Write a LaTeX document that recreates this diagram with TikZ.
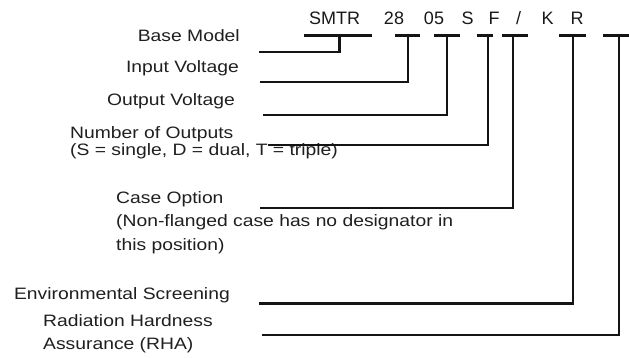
\documentclass[tikz,border=0pt]{standalone}
\usepackage{fontspec}
\setmainfont[FakeStretch=1.17]{Liberation Sans}
\newfontfamily\codefont{Liberation Sans}
\begin{document}
\begin{tikzpicture}[x=1pt,y=-1pt,
  lbl/.style={inner sep=0pt, font=\fontsize{16.5}{19}\selectfont, text=black!88},
  lblr/.style={lbl, anchor=base east},
  lbll/.style={lbl, anchor=base west},
  code/.style={inner sep=0pt, anchor=base, font=\codefont\fontsize{18}{20}\selectfont, text=black!90},
  conn/.style={line width=2.3pt, draw=black!92, line join=miter},
  uline/.style={line width=2.3pt, draw=black!92}]
\useasboundingbox (0,0) rectangle (629,357);

% code characters
\node[code] (cSMTR) at (334.5,24) {SMTR};
\node[code] (c28) at (394,24) {28};
\node[code] (c05) at (434,24) {05};
\node[code] (cS) at (467.5,24) {S};
\node[code] (cF) at (494,24) {F};
\node[code] (cSl) at (518.5,24) {/};
\node[code] (cK) at (547.5,24) {K};
\node[code] (cR) at (577,24) {R};

% labels
\node[lblr] (lBase) at (240,41.7) {Base Model};
\node[lblr] (lIn) at (239,72.7) {Input Voltage};
\node[lblr] (lOut) at (235,105) {Output Voltage};
\node[lbll] (lNum1) at (70,138) {Number of Outputs};
\node[lbll] (lNum2) at (70,155) {(S = single, D = dual, T = triple)};
\node[lbll] (lCase1) at (116,203) {Case Option};
\node[lbll] (lCase2) at (116,226.5) {(Non-flanged case has no designator in};
\node[lbll] (lCase3) at (116,250) {this position)};
\node[lblr] (lEnv) at (230,299) {Environmental Screening};
\node[lbll] (lRha1) at (43,326) {Radiation Hardness};
\node[lbll] (lRha2) at (43,349) {Assurance (RHA)};

% underline ends
\coordinate (u1a) at (304,35.5);   \coordinate (u1b) at (371.5,35.5); \coordinate (u1) at (339.5,35.5);
\coordinate (u2a) at (395,35.5);   \coordinate (u2b) at (420,35.5);   \coordinate (u2) at (407.7,35.5);
\coordinate (u3a) at (434,35.5);   \coordinate (u3b) at (460,35.5);   \coordinate (u3) at (447,35.5);
\coordinate (u4a) at (476.7,35.5); \coordinate (u4b) at (493.3,35.5); \coordinate (u4) at (487.7,35.5);
\coordinate (u5a) at (502,35.5);   \coordinate (u5b) at (528,35.5);   \coordinate (u5) at (513.3,35.5);
\coordinate (u6a) at (559,35.5);   \coordinate (u6b) at (586,35.5);   \coordinate (u6) at (573.3,35.5);
\coordinate (u7a) at (603,35.5);   \coordinate (u7b) at (630,35.5);   \coordinate (u7) at (619.3,35.5);

% leader starts next to labels
\coordinate (s1) at (259.3,51.7);
\coordinate (s2) at (260,81.7);
\coordinate (s3) at (263.3,115);
\coordinate (s4) at (268,145);
\coordinate (s5) at (260,207.7);
\coordinate (s6) at (259.3,303.5);
\coordinate (s7) at (261.7,335);

\foreach \i in {1,...,7} {
  \draw[uline] (u\i a) -- (u\i b);
  \draw[conn] (s\i) -| (u\i);
}
\end{tikzpicture}
\end{document}
